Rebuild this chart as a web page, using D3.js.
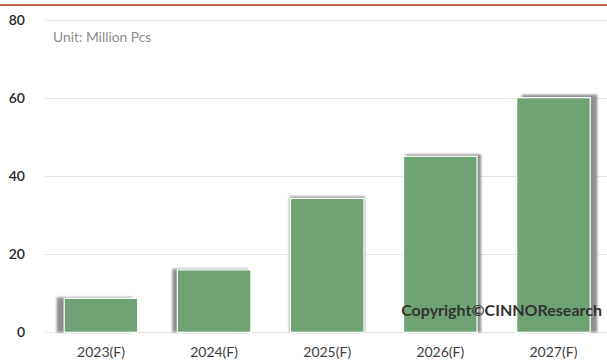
<!DOCTYPE html>
<html><head><meta charset="utf-8">
<script src="https://cdn.jsdelivr.net/npm/d3@7/dist/d3.min.js"></script>
<style>body{margin:0;background:#fff}svg{display:block}</style>
</head><body>
<svg id="c" width="607" height="360"></svg>
<script>
const categories = ["2023(F)","2024(F)","2025(F)","2026(F)","2027(F)"];
const values = [8.7, 16.0, 34.3, 45.1, 60.1];
const yTicks = [0, 20, 40, 60, 80];
const unitLabel = "Unit: Million Pcs";
const copyright = "Copyright©CINNOResearch";

const svg = d3.select("#c");
const W = 607, H = 360;
const font = "Lato, 'Open Sans', sans-serif";

const x = d3.scaleBand().domain(categories).range([44.4, 610]).paddingInner(0.35).paddingOuter(0.175);
const y = d3.scaleLinear().domain([0, 80]).range([332.3, 20]);

// top rule
svg.append("line").attr("x1",0).attr("x2",W).attr("y1",5).attr("y2",5)
  .attr("stroke","#c4694f").attr("stroke-width",2.2);

// grid
svg.append("g").selectAll("line").data(yTicks).join("line")
  .attr("x1",45).attr("x2",W).attr("y1",d=>Math.round(y(d))+0.5).attr("y2",d=>Math.round(y(d))+0.5)
  .attr("stroke","#e4e4e4").attr("stroke-width",1);

// y axis labels
const yAxis = d3.axisLeft(y).tickValues(yTicks).tickSize(0).tickPadding(0);
const gy = svg.append("g").attr("transform","translate(25,0)").call(yAxis);
gy.select(".domain").remove();
gy.selectAll("text").attr("font-family",font).attr("font-size",14).attr("fill","#262626").attr("font-weight",600);

// unit label
svg.append("text").attr("x",53).attr("y",42).text(unitLabel)
  .attr("font-family",font).attr("font-size",13.8).attr("fill","#8c8c8c");

// shadows
const defs = svg.append("defs");
defs.append("filter").attr("id","blur").attr("x","-20%").attr("y","-20%").attr("width","140%").attr("height","140%")
  .append("feGaussianBlur").attr("stdDeviation",1.1);
const shiftX = [-6.5, -4, 0, 3, 6];
const shiftY = [-1, -1, -2, -2, -3];
svg.append("g").selectAll("rect").data(values).join("rect")
  .attr("x",(d,i)=>x(categories[i]) + shiftX[i] - 1)
  .attr("y",(d,i)=>y(d) + shiftY[i])
  .attr("width",x.bandwidth() + 2)
  .attr("height",(d,i)=>y(0)-y(d) - shiftY[i])
  .attr("fill","#8f8f8f").attr("filter","url(#blur)");

// bars
svg.append("g").selectAll("rect").data(values).join("rect")
  .attr("x",(d,i)=>x(categories[i]))
  .attr("y",d=>y(d))
  .attr("width",x.bandwidth())
  .attr("height",d=>y(0)-y(d))
  .attr("fill","#6fa375").attr("stroke","#ffffff").attr("stroke-width",1.2);

// x axis labels
const xAxis = d3.axisBottom(x).tickSize(0).tickPadding(0);
const gx = svg.append("g").attr("transform","translate(0,347)").call(xAxis);
gx.select(".domain").remove();
gx.selectAll("text").attr("font-family",font).attr("font-size",14).attr("fill","#404040");

// copyright
svg.append("text").attr("x",602).attr("y",316).attr("text-anchor","end").text(copyright)
  .attr("font-family",font).attr("font-size",16).attr("font-weight",700).attr("fill","#333333");
</script>
</body></html>
